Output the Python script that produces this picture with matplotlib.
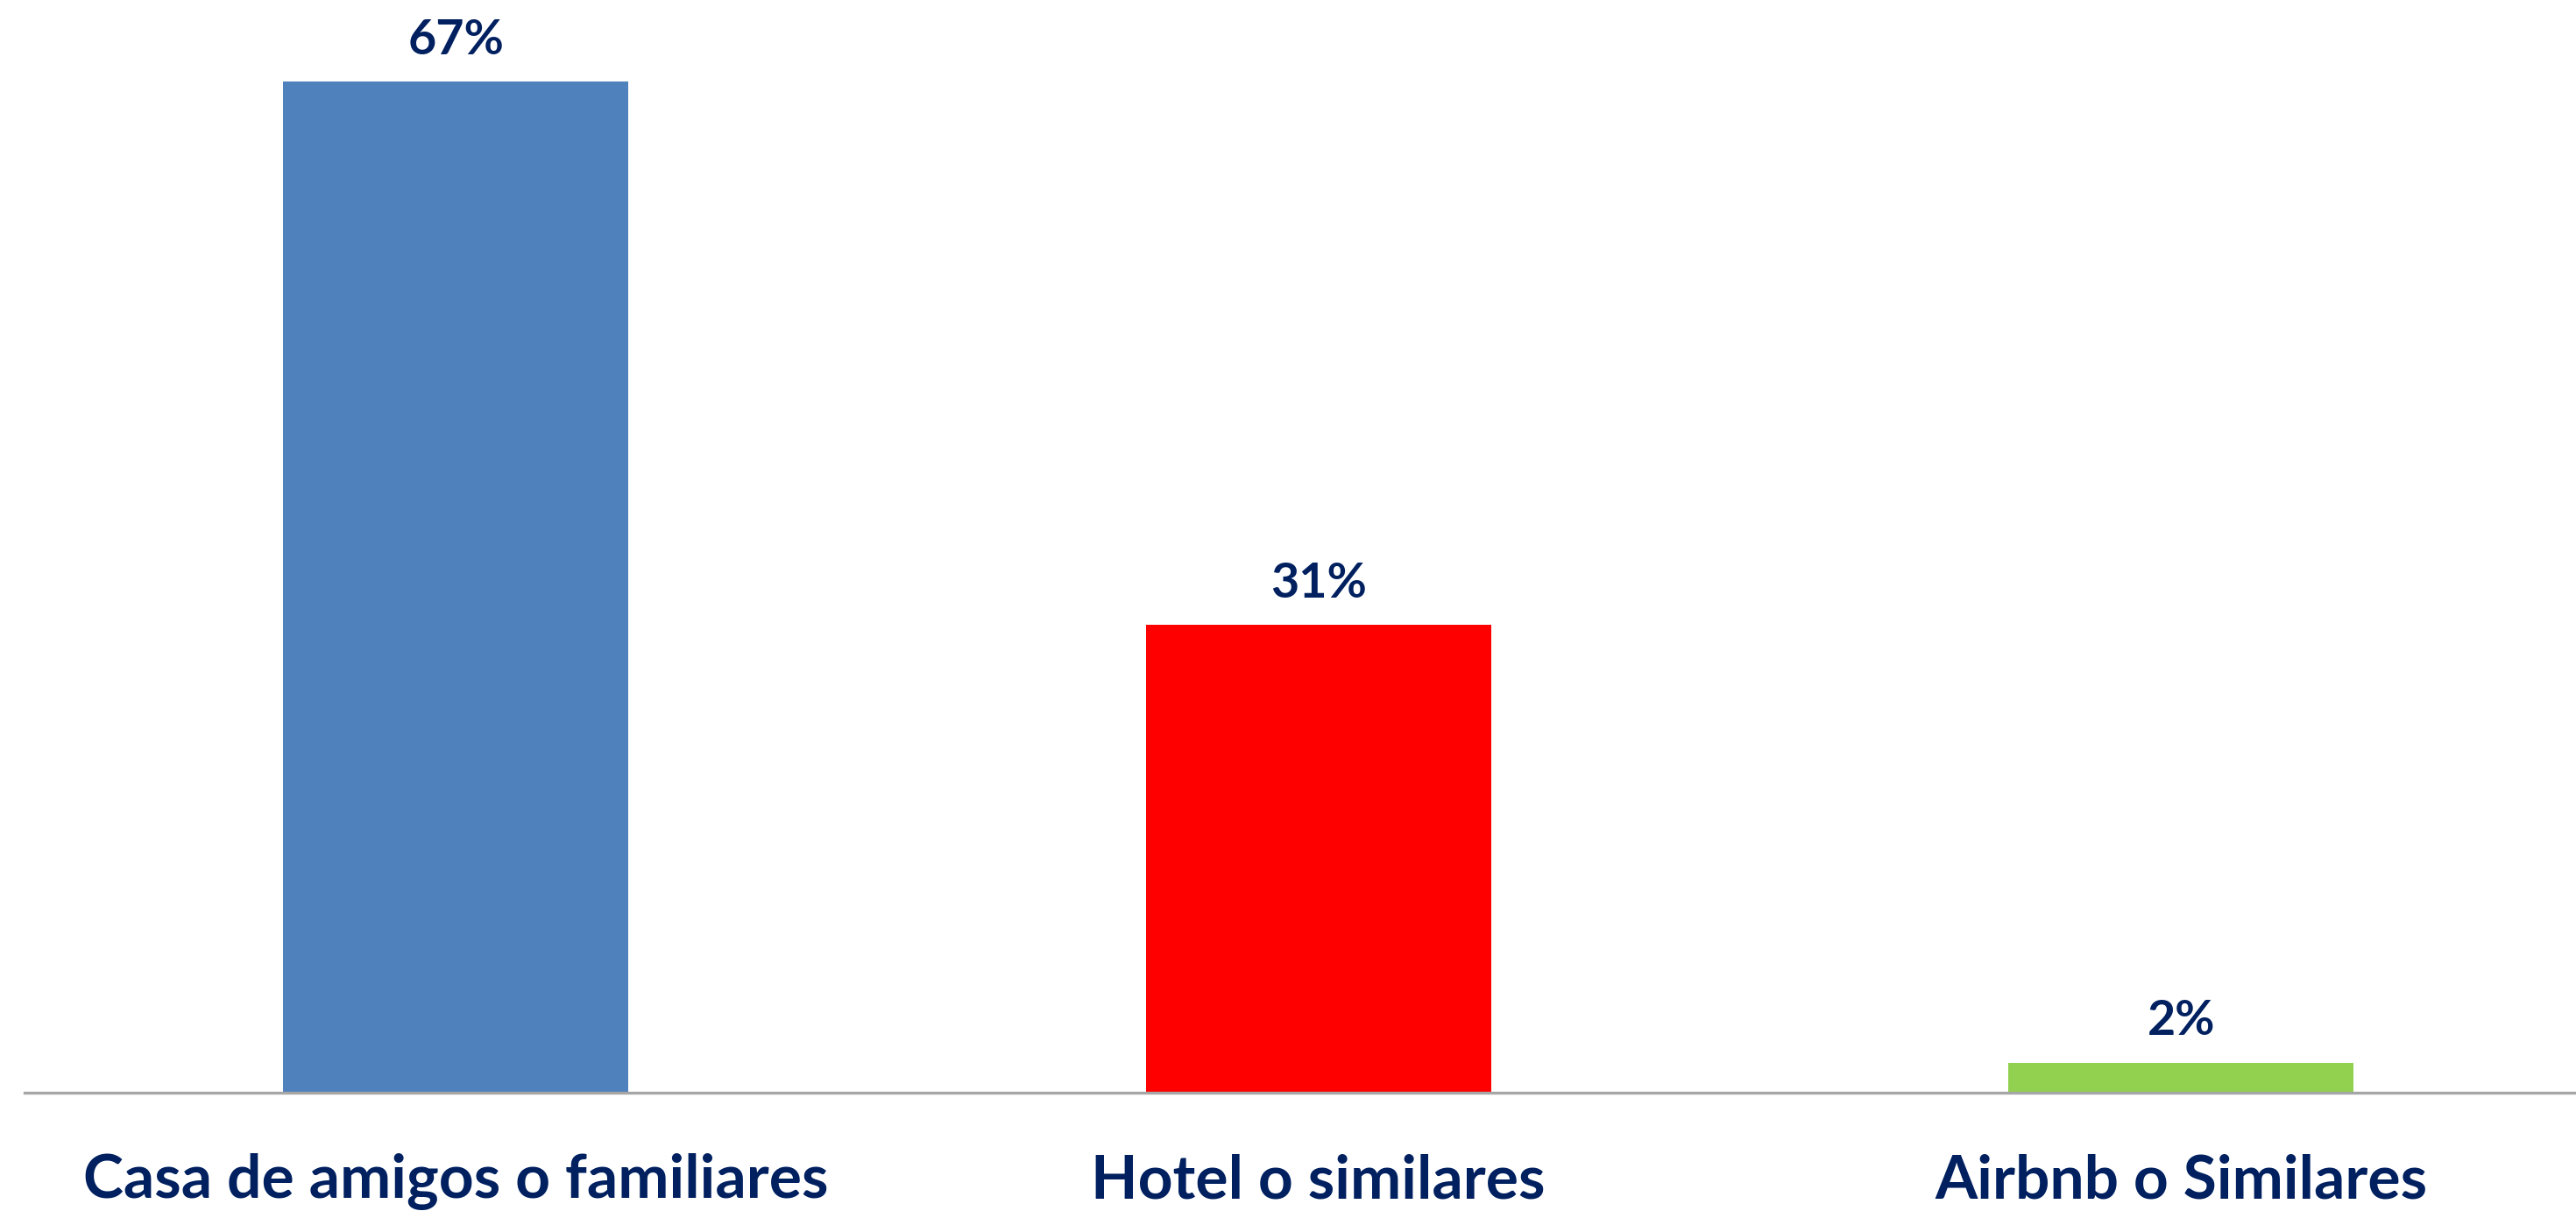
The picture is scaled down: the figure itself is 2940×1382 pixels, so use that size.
import matplotlib
matplotlib.use('Agg')
import matplotlib.pyplot as plt

categories = ['Casa de amigos o familiares', 'Hotel o similares', 'Airbnb o Similares']
values = [67, 31, 2]
bar_colors = ['#4F81BD', '#FF0000', '#92D050']
text_color = '#002060'

plt.rcParams['font.family'] = ['Lato', 'DejaVu Sans']

fig = plt.figure(figsize=(14.7, 6.91), dpi=200)
# axes spans nearly full width, baseline near the bottom
ax = fig.add_axes([15 / 1568, 72 / 737, 1 - 15 / 1568, 665 / 737])

x = range(len(categories))
ax.bar(x, values, width=0.4, color=bar_colors, zorder=2)

for xi, v in zip(x, values):
    ax.annotate(f'{v}%', (xi, v), xytext=(0, 8), textcoords='offset points',
                ha='center', va='bottom', fontsize=20, fontweight='bold',
                color=text_color)

ax.set_xlim(-0.5, 2.458)
ax.set_ylim(0, 72.4)
ax.set_xticks(list(x))
ax.set_xticklabels(categories, fontsize=25, fontweight='bold', color=text_color)
ax.tick_params(axis='x', length=0, pad=25)
ax.set_yticks([])

for side in ['top', 'right', 'left']:
    ax.spines[side].set_visible(False)
ax.spines['bottom'].set_color('#A6A6A6')
ax.spines['bottom'].set_linewidth(1.2)

fig.savefig('out.png', dpi=200)
